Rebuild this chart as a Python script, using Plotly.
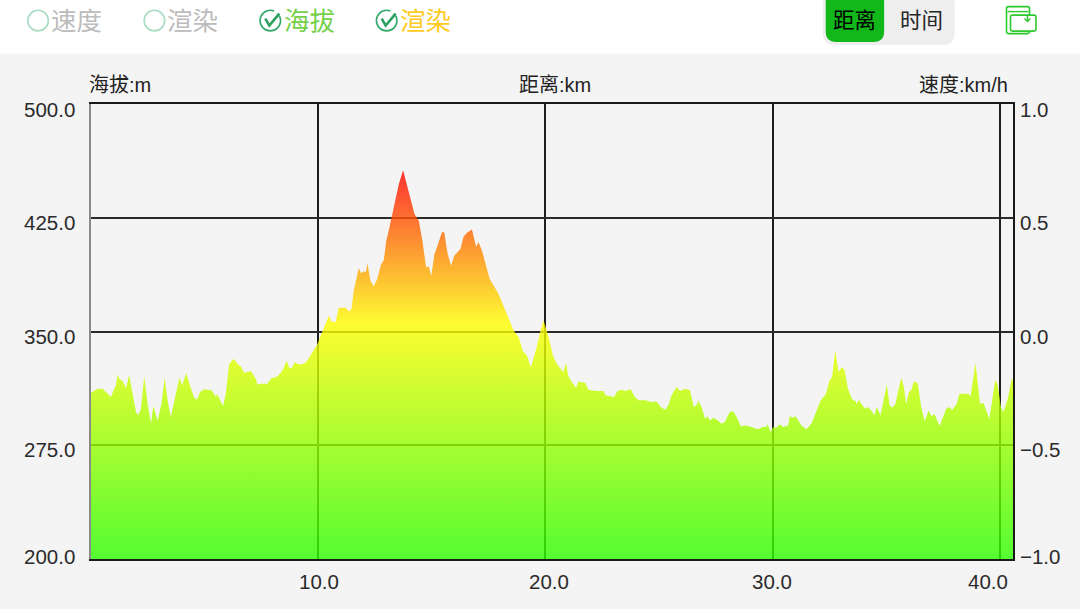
import plotly.graph_objects as go

distance_km = [0.01,0.16,0.30,0.52,0.67,0.89,1.0,1.11,1.18,1.25,1.40,1.55,1.69,1.84,1.99,2.09,2.21,2.35,2.50,2.65,2.75,2.94,3.11,3.25,3.38,3.52,3.70,3.90,4.02,4.20,4.36,4.55,4.67,4.81,4.99,5.31,5.49,5.57,5.82,5.94,6.09,6.30,6.45,6.63,6.74,7.04,7.26,7.33,7.48,7.77,7.92,8.21,8.43,8.62,8.74,8.85,8.97,9.16,9.38,9.53,9.75,9.96,10.18,
10.48,10.58,10.77,10.91,11.21,11.35,11.46,11.57,11.79,11.89,12.01,12.10,12.17,12.30,12.45,12.60,12.77,12.89,13.0,13.12,13.33,13.55,13.74,13.92,14.06,14.24,14.43,14.59,14.75,14.87,14.98,15.12,15.23,15.45,15.55,15.70,15.85,15.99,16.26,16.40,16.55,16.77,16.95,17.06,17.21,17.55,17.94,18.31,18.60,18.82,19.01,19.19,19.36,19.62,19.77,19.92,
20.14,20.33,20.50,20.79,20.91,21.0,21.16,21.35,21.45,21.75,21.89,22.26,22.55,22.65,23.02,23.17,23.36,23.50,23.75,23.94,24.09,24.38,24.67,24.89,25.07,25.26,25.41,25.55,25.77,25.92,26.14,26.36,26.53,26.68,26.72,26.87,27.02,27.13,27.24,27.38,27.53,27.75,27.89,28.11,28.26,28.41,28.60,28.85,29.14,29.36,29.55,29.72,29.77,29.91,
30.02,30.16,30.31,30.46,30.68,30.75,30.87,31.01,31.26,31.48,31.70,31.92,32.11,32.33,32.50,32.61,32.75,32.90,33.03,33.16,33.31,33.50,33.65,33.68,33.79,33.94,34.07,34.16,34.29,34.48,34.57,34.74,34.88,35.02,35.14,35.26,35.40,35.65,35.77,35.87,35.99,36.09,36.21,36.38,36.53,36.68,36.87,36.97,37.12,37.34,37.63,37.78,37.89,38.10,38.21,38.62,38.70,38.92,39.12,39.27,39.53,39.79,39.90,40.04,40.15,40.34,40.51,40.57]

elevation_m = [309.6,311.2,312.3,312.3,310.1,306.8,311.2,314.5,321.7,318.9,317.3,312.7,321.5,309,296.9,294.7,299.1,320.4,302.4,289.3,300.7,291.4,302.4,319.5,304.6,293.6,306.8,319.7,314.5,322.6,314.5,306.4,305,310.1,312,311.2,307.2,308.5,300.9,309,328.7,332,328.7,326.5,322.8,323.9,318.9,315.1,315.6,315.6,318.9,320.4,324.3,330.5,325.9,326.1,329.8,328.3,328.7,330.9,336.4,341.4,349.6,
360.5,356.6,356.1,365.6,365.6,363.4,364.3,377,391.9,388.4,389.7,389,395,383.5,379.8,384.6,394.1,397.1,409.9,417.5,432.9,447.1,456.4,446,438.4,427.4,423,409.9,392.3,392.8,386.8,401.1,405.5,415.4,415.4,401.1,393.4,400,404.4,412.5,415.1,417.3,405.9,408.8,403.3,384.6,374.8,361.6,350.7,346.3,337,334.2,326.5,339.7,349.6,357.2,
346.3,334.2,328.7,323.2,329.2,321,316.6,312.9,317.1,316.2,311.6,310.7,310.7,307.9,306.8,310.7,311.6,310.7,312,306.8,304.6,304.6,303.5,303.9,300.2,298.4,301.3,307.9,313.4,310.7,312.3,311.2,300.2,302,304.6,300.2,292.5,294.1,291.4,293.2,291.9,289.2,290.3,296.9,297.4,293.6,287.5,288.1,286.6,285.5,287,287,288.8,283.8,
287,286.6,288.8,287,288.1,294.3,293.2,294.1,288.1,285.5,289.2,298,304.6,308.5,317.7,320,337.5,323.2,326.5,324.8,312.3,305,304.2,302,305,301.3,299.1,300.2,298.7,294.7,300.2,294.7,304.6,315.1,301.3,299.8,302.4,319.5,313.4,302,310.1,311.2,317.1,316,300.2,291,298,294.1,295.4,287.7,299.1,300.2,298,302.4,309,309,307.2,329.4,302.4,302.8,292.5,318.2,314.5,300.2,296.9,305.7,318.8,318]

x_ticks = [10, 20, 30, 40]
x_tick_labels = ["10.0", "20.0", "30.0", "40.0"]
left_ticks = [200, 275, 350, 425, 500]
left_tick_labels = ["200.0", "275.0", "350.0", "425.0", "500.0"]
right_ticks = [-1, -0.5, 0, 0.5, 1]
right_tick_labels = ["\u22121.0", "\u22120.5", "0.0", "0.5", "1.0"]

# Layout constants (pixels in the 1080x609 frame)
W, H = 1080, 609
L, R, T, B = 90.5, 1013.5, 103.5, 559
CJK = "'Liberation Sans','Noto Sans CJK SC',sans-serif"
INK = "#2b2b2b"


def fx(p):
    return (p - L) / (R - L)


def fy(p):
    return (B - p) / (B - T)


def rrect(x0, y0, x1, y1, r):
    a, b, c, d = fx(x0), fy(y0), fx(x1), fy(y1)
    rx, ry = r / (R - L), r / (B - T)
    return (f"M{a+rx},{b} L{c-rx},{b} Q{c},{b} {c},{b-ry} L{c},{d+ry} Q{c},{d} {c-rx},{d} "
            f"L{a+rx},{d} Q{a},{d} {a},{d+ry} L{a},{b-ry} Q{a},{b} {a+rx},{b} Z")


def poly(points):
    return "M" + " L".join(f"{fx(x)},{fy(y)}" for x, y in points)


shapes = []


def add_shape(path, line=None, fill=None, width=1.5):
    shapes.append(dict(type="path", xref="paper", yref="paper", path=path, layer="above",
                       line=dict(color=line or "rgba(0,0,0,0)", width=width if line else 0),
                       fillcolor=fill or "rgba(0,0,0,0)"))


def add_circle(cx, cy, r, color):
    shapes.append(dict(type="circle", xref="paper", yref="paper", layer="above",
                       x0=fx(cx - r), x1=fx(cx + r), y0=fy(cy + r), y1=fy(cy - r),
                       line=dict(color=color, width=1.6)))


# grey page area below the white header
shapes.append(dict(type="rect", xref="paper", yref="paper", layer="below",
                   x0=fx(-5), x1=fx(W + 5), y0=fy(H + 5), y1=fy(53),
                   fillcolor="#f4f4f4", line=dict(width=0)))

add_circle(37.5, 20, 10.3, "#a9dcc3")
add_circle(154, 20, 10.3, "#a9dcc3")
for c in (270, 386.5):
    add_circle(c, 20, 10.3, "#35a86c")
    add_shape(poly([(c + 4, 10), (c + 12, 15)]), line="#ffffff", width=3)
    add_shape(poly([(c - 5, 18), (c - 1, 25), (c + 9, 13)]), line="#2a9f60", width=2.6)

# distance / time switch
add_shape(rrect(823, -8, 955, 44.5, 12), fill="#eeeeee")
add_shape(rrect(826, -8, 884.5, 41.5, 10), fill="#12b81a")

# folder icon
add_shape(rrect(1007, 6, 1030, 33, 2), line="#2dc92d", width=1.6)
add_shape(poly([(1008, 11), (1029, 11)]), line="#2dc92d", width=1.4)
add_shape(rrect(1011, 14.5, 1036.5, 30.5, 2), line="#2dc92d", fill="#ffffff", width=1.6)
add_shape(poly([(1028, 15), (1028, 20)]), line="#2dc92d", width=1.4)
add_shape(poly([(1025, 18), (1028, 21), (1031, 18)]), line="#2dc92d", width=1.4)

annotations = []


def label(text, px, pyy, size, color, anchor="center"):
    annotations.append(dict(text=text, xref="paper", yref="paper", x=fx(px), y=fy(pyy),
                            xanchor=anchor, yanchor="middle", showarrow=False,
                            font=dict(family=CJK, size=size, color=color)))


label("速度", 76, 20, 25.5, "#bcbcbc")
label("渲染", 192, 20, 25.5, "#bcbcbc")
label("海拔", 309, 20, 25.5, "#76cf4a")
label("渲染", 425, 20, 25.5, "#ffcb22")
label("距离", 855, 20, 21.5, "#000000")
label("时间", 921.5, 20, 21.5, "#262626")
label("海拔:m", 86, 84, 20, "#222222", "left")
label("距离:km", 555, 84, 20, "#222222")
label("速度:km/h", 1010, 84, 20, "#222222", "right")

# tick labels sit slightly off the ticks in the reference
x_shift = [0.5, 3.5, -1, -12.5]
for v, t, s in zip(x_ticks, x_tick_labels, x_shift):
    annotations.append(dict(text=t, xref="x", yref="paper", x=v, y=0, xshift=s, yshift=-22,
                            xanchor="center", yanchor="middle", showarrow=False,
                            font=dict(family=CJK, size=20.5, color=INK)))
y_shift = [3, -4.5, -4.5, -4.5, -5]
for v, t, s in zip(left_ticks, left_tick_labels, y_shift):
    annotations.append(dict(text=t, xref="paper", yref="y", x=0, y=v, xshift=-14, yshift=s,
                            xanchor="right", yanchor="middle", showarrow=False,
                            font=dict(family=CJK, size=20.5, color=INK)))
for v, t, s in zip(right_ticks, right_tick_labels, y_shift):
    annotations.append(dict(text=t, xref="paper", yref="y2", x=1, y=v, xshift=5, yshift=s,
                            xanchor="left", yanchor="middle", showarrow=False,
                            font=dict(family=CJK, size=20.5, color=INK)))

fig = go.Figure()
fig.add_trace(go.Scatter(
    x=distance_km, y=elevation_m, mode="lines", name="海拔",
    line=dict(width=0, color="rgba(0,0,0,0)"), fill="tozeroy",
    fillgradient=dict(type="vertical", start=200, stop=456.4, colorscale=[
        [0.0, "rgba(45,255,0,0.8)"],
        [0.605, "rgba(255,255,0,0.8)"],
        [1.0, "rgba(255,0,0,0.8)"],
    ]),
    hoverinfo="skip", showlegend=False))
fig.add_trace(go.Scatter(x=[None], y=[None], yaxis="y2", mode="lines", showlegend=False,
                         name="速度", hoverinfo="skip"))

fig.update_layout(
    width=W, height=H, autosize=False,
    margin=dict(l=L, r=W - R, t=T, b=H - B, pad=0),
    paper_bgcolor="#ffffff", plot_bgcolor="#f4f4f4",
    showlegend=False, shapes=shapes, annotations=annotations,
    xaxis=dict(range=[0.01, 40.57], tickvals=x_ticks, showticklabels=False, ticks="",
               showgrid=True, gridcolor="#1e1e1e", gridwidth=2, zeroline=False,
               showline=True, linecolor="#1a1a1a", linewidth=1.6, mirror=True),
    yaxis=dict(range=[200, 500], tickvals=left_ticks, showticklabels=False, ticks="",
               showgrid=True, gridcolor="#2a2a2a", gridwidth=2, zeroline=False,
               showline=True, linecolor="#8a8a8a", linewidth=1.6),
    yaxis2=dict(range=[-1, 1], overlaying="y", side="right", tickvals=right_ticks,
                showticklabels=False, ticks="", showgrid=False, zeroline=False,
                showline=True, linecolor="#1a1a1a", linewidth=1.6),
)

fig.write_html("out.html", config=dict(displayModeBar=False),
               post_script="document.body.style.margin='0';document.body.style.overflow='hidden';")
